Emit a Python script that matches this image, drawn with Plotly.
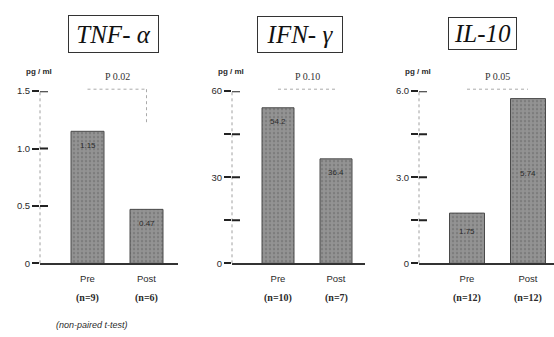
import plotly.graph_objects as go

W, H = 554, 337

# ---------------- data ----------------
groups = ["Pre", "Post"]
panel_titles = ["TNF- α", "IFN- γ", "IL-10"]
tnf_values = [1.15, 0.47]
ifn_values = [54.2, 36.4]
il10_values = [1.75, 5.74]
tnf_labels = ["1.15", "0.47"]
ifn_labels = ["54.2", "36.4"]
il10_labels = ["1.75", "5.74"]
tnf_n = ["(n=9)", "(n=6)"]
ifn_n = ["(n=10)", "(n=7)"]
il10_n = ["(n=12)", "(n=12)"]
p_values = ["P 0.02", "P 0.10", "P 0.05"]
tnf_ticks = [0, 0.5, 1.0, 1.5]
tnf_ticktext = ["0", "0.5", "1.0", "1.5"]
ifn_ticks = [0, 15, 30, 45, 60]
ifn_ticktext = ["0", "", "30", "", "60"]
il10_ticks = [0, 1.5, 3.0, 4.5, 6.0]
il10_ticktext = ["0", "", "3.0", "", "6.0"]
y_max = [1.5, 60, 6.0]
unit = "pg / ml"
footnote = "(non-paired t-test)"

values = [tnf_values, ifn_values, il10_values]
labels = [tnf_labels, ifn_labels, il10_labels]
ns = [tnf_n, ifn_n, il10_n]
ticks = [tnf_ticks, ifn_ticks, il10_ticks]
ticktexts = [tnf_ticktext, ifn_ticktext, il10_ticktext]

# ---------------- layout geometry (pixels) ----------------
# axis left, axis right, centre of Pre bar, centre of Post bar, bar width
geom = [
    (40, 178, 87.5, 146.5, 33),
    (232, 365, 278, 336, 32),
    (419, 554, 467, 528, 35),
]
title_centres = [(113.5, 29), (300, 29.5), (482.5, 28)]
title_boxes = [(89, 36), (84, 35), (67, 31)]
y_bottom_px, y_top_px = 266, 88
ydom = [1 - y_bottom_px / H, 1 - y_top_px / H]

SANS = "Liberation Sans, Arial, sans-serif"
SERIF = "Liberation Serif, Times New Roman, serif"
TXT = "#2a2a2a"

fig = go.Figure()
layout = dict(
    width=W, height=H,
    margin=dict(l=0, r=0, t=0, b=0),
    paper_bgcolor="white", plot_bgcolor="white",
    showlegend=False, bargap=0,
)
annotations = []
shapes = []

for i in range(3):
    ax0, ax1, c0, c1, bw = geom[i]
    s = c1 - c0
    r0 = -(c0 - ax0) / s
    r1 = 1 + (ax1 - c1) / s
    xa = "x" if i == 0 else f"x{i+1}"
    ya = "y" if i == 0 else f"y{i+1}"
    xkey = "xaxis" if i == 0 else f"xaxis{i+1}"
    ykey = "yaxis" if i == 0 else f"yaxis{i+1}"

    fig.add_trace(go.Bar(
        x=[0, 1], y=values[i], xaxis=xa, yaxis=ya,
        width=bw / s,
        marker=dict(color="#939393",
                    line=dict(color="#4a4a4a", width=1),
                    pattern=dict(shape=".", fgcolor="#666666", size=4, solidity=0.3)),
        hoverinfo="skip",
    ))

    layout[xkey] = dict(
        domain=[ax0 / W, ax1 / W], range=[r0, r1], anchor=ya,
        tickvals=[0, 1], ticktext=groups, ticks="",
        ticklabelstandoff=5,
        tickfont=dict(family=SANS, size=9.5, color=TXT),
        showline=True, linecolor="#333333", linewidth=2,
        showgrid=False, zeroline=False, fixedrange=True,
    )
    layout[ykey] = dict(
        domain=ydom, range=[0, y_max[i]], anchor=xa,
        tickvals=ticks[i], ticktext=ticktexts[i],
        ticks="outside", ticklen=7, tickwidth=2, tickcolor="#222222",
        tickfont=dict(family=SANS, size=9.5, color=TXT),
        showline=False, showgrid=False, zeroline=False, fixedrange=True,
    )

    # dotted vertical axis line
    shapes.append(dict(type="line", xref=f"{xa} domain", yref=f"{ya} domain",
                       x0=0, x1=0, y0=0, y1=1,
                       line=dict(color="#a0a0a0", width=1, dash="dot")))
    # inner half of the crossing tick marks
    for v in ticks[i][1:]:
        shapes.append(dict(type="line", xref=f"{xa} domain", yref=ya,
                           x0=0, x1=8 / (ax1 - ax0), y0=v, y1=v,
                           line=dict(color="#222222", width=2)))

    # value labels inside bars
    for j in range(2):
        if i < 2:
            annotations.append(dict(x=j, y=values[i][j], xref=xa, yref=ya,
                                    text=labels[i][j], showarrow=False,
                                    yshift=-14, yanchor="middle",
                                    font=dict(family=SANS, size=8, color="#2a2a2a")))
        else:
            annotations.append(dict(x=j, y=values[i][j] / 2, xref=xa, yref=ya,
                                    text=labels[i][j], showarrow=False,
                                    yshift=7, yanchor="middle",
                                    font=dict(family=SANS, size=8, color="#2a2a2a")))
        # n counts
        annotations.append(dict(x=j, y=1 - 302 / H, xref=xa, yref="paper",
                                text=f"<b>{ns[i][j]}</b>", showarrow=False,
                                yanchor="middle",
                                font=dict(family=SERIF, size=10, color=TXT)))

    # boxed title
    tx, ty = title_centres[i]
    bwid, bhei = title_boxes[i]
    annotations.append(dict(x=tx / W, y=1 - ty / H, xref="paper", yref="paper",
                            text=f"<i>{panel_titles[i]}</i>", showarrow=False,
                            xanchor="center", yanchor="middle",
                            width=bwid, height=bhei, borderpad=0,
                            bordercolor="#333333", borderwidth=1,
                            font=dict(family=SERIF, size=25, color="#111111")))
    # unit label
    annotations.append(dict(x=(ax0 - 1) / W, y=1 - 68 / H, xref="paper", yref="paper",
                            text=f"<b>{unit}</b>", showarrow=False,
                            xanchor="center", yanchor="middle",
                            font=dict(family=SANS, size=8, color=TXT)))
    # p-value label + dotted bracket
    annotations.append(dict(x=(c0 + c1) / 2 / W, y=1 - 73 / H, xref="paper", yref="paper",
                            text=p_values[i], showarrow=False,
                            xanchor="center", yanchor="middle",
                            font=dict(family=SERIF, size=10, color="#333333")))
    shapes.append(dict(type="line", xref=xa, yref="paper",
                       x0=0, x1=1, y0=1 - 86 / H, y1=1 - 86 / H,
                       line=dict(color="#aaaaaa", width=1, dash="dot")))
    if i == 0:
        shapes.append(dict(type="line", xref=xa, yref="paper",
                           x0=1, x1=1, y0=1 - 86 / H, y1=1 - 122 / H,
                           line=dict(color="#aaaaaa", width=1, dash="dot")))

annotations.append(dict(x=92 / W, y=1 - 330 / H, xref="paper", yref="paper",
                        text=f"<i>{footnote}</i>", showarrow=False,
                        xanchor="center", yanchor="middle",
                        font=dict(family=SANS, size=9, color=TXT)))

layout["annotations"] = annotations
layout["shapes"] = shapes
fig.update_layout(**layout)
fig.write_html("out.html",
               config={"displayModeBar": False, "staticPlot": True},
               post_script="document.body.style.margin='0';document.body.style.overflow='hidden';")
